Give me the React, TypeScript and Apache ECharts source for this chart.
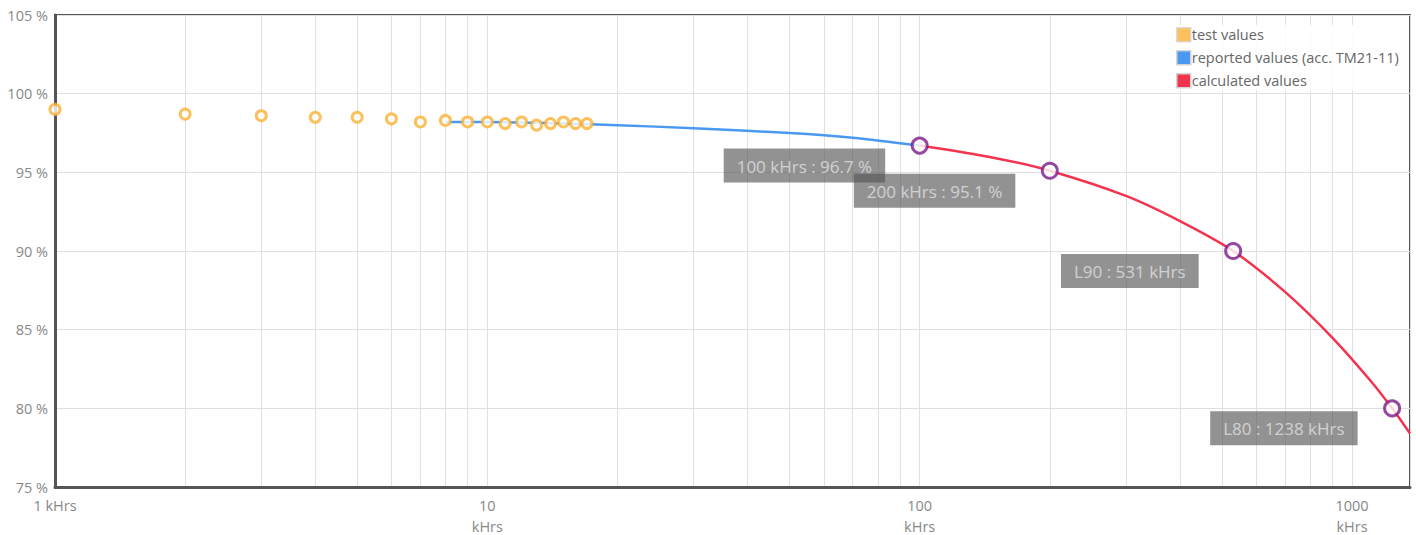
import React, { useEffect, useRef } from "react";
import * as echarts from "echarts";

// ---- data ----
const testHours = [1, 2, 3, 4, 5, 6, 7, 8, 9, 10, 11, 12, 13, 14, 15, 16, 17];
const testValues = [99.0, 98.7, 98.6, 98.5, 98.5, 98.4, 98.2, 98.3, 98.2, 98.2, 98.1, 98.2, 98.0, 98.1, 98.2, 98.1, 98.1];

const reportedHours = [8, 10, 15, 20, 30, 50, 70, 100];
const reportedValues = [98.2, 98.2, 98.1, 98.0, 97.8, 97.5, 97.2, 96.7];

const calcHours = [100, 150, 200, 300, 400, 531, 700, 900, 1100, 1238, 1361.8];
const calcValues = [96.7, 95.9, 95.1, 93.5, 91.9, 90.0, 87.4, 84.5, 81.8, 80.0, 78.4];

const keyHours = [100, 200, 531, 1238];
const keyValues = [96.7, 95.1, 90.0, 80.0];
const keyLabels = ["100 kHrs : 96.7 %", "200 kHrs : 95.1 %", "L90 : 531 kHrs", "L80 : 1238 kHrs"];

const minorGridHours = [2, 3, 4, 5, 6, 7, 8, 9, 20, 30, 40, 50, 60, 70, 80, 90, 200, 300, 400, 500, 600, 700, 800, 900];

const xMin = 1;
const xMax = 1361.8;
const yMin = 75;
const yMax = 105;
const yInterval = 5;

const seriesNames = ["test values", "reported values (acc. TM21-11)", "calculated values"];
const ORANGE = "#fbb034";
const BLUE = "#4a98f2";
const RED = "#f4334e";
const PURPLE = "#7a1a88";
const FONT = "'Open Sans', 'Noto Sans', sans-serif";

export default function App() {
  const ref = useRef<HTMLDivElement>(null);

  useEffect(() => {
    if (!ref.current) return;
    const chart = echarts.init(ref.current, null, { renderer: "svg" });
    chart.setOption({
      animation: false,
      textStyle: { fontFamily: FONT },
      grid: {
        left: 55,
        right: 6,
        top: 15,
        bottom: 48,
        outerBoundsMode: "none",
        containLabel: false,
        show: true,
        borderColor: "#555",
        borderWidth: 2,
        backgroundColor: "transparent",
      },
      legend: {
        orient: "vertical",
        left: 1172,
        top: 25,
        icon: "rect",
        itemWidth: 14,
        itemHeight: 14,
        itemGap: 7.5,
        padding: [2, 4],
        backgroundColor: "rgba(255,255,255,0.85)",
        textStyle: { color: "#666", fontSize: 14.5, fontFamily: FONT, padding: [0, 0, 0, -4] },
        data: [
          { name: seriesNames[0], itemStyle: { color: ORANGE, borderColor: "#d4d4d4", borderWidth: 1.5 } },
          { name: seriesNames[1], itemStyle: { color: BLUE, borderColor: "#d4d4d4", borderWidth: 1.5 } },
          { name: seriesNames[2], itemStyle: { color: RED, borderColor: "#d4d4d4", borderWidth: 1.5 } },
        ],
      },
      xAxis: {
        type: "log",
        logBase: 10,
        min: xMin,
        max: xMax,
        axisLine: { show: true, lineStyle: { color: "#555", width: 3 } },
        axisTick: { show: false },
        splitLine: { show: true, lineStyle: { color: "#e0e0e0", width: 1 } },
        axisLabel: {
          showMaxLabel: false,
          color: "#888",
          fontSize: 14.5,
          fontFamily: FONT,
          margin: 6,
          formatter: (v: number) =>
            Math.round(v) === 1 ? "{a|1 kHrs}" : "{a|" + Math.round(v) + "}\n{b|kHrs}",
          rich: {
            a: { color: "#888", fontSize: 14.5, fontFamily: FONT, lineHeight: 24 },
            b: { color: "#888", fontSize: 14.5, fontFamily: FONT, lineHeight: 18 },
          },
        },
      },
      yAxis: {
        type: "value",
        min: yMin,
        max: yMax,
        interval: yInterval,
        axisLine: { show: true, lineStyle: { color: "#555", width: 3 } },
        axisTick: { show: false },
        splitLine: { show: true, lineStyle: { color: "#e0e0e0", width: 1 } },
        axisLabel: {
          color: "#888",
          fontSize: 14.5,
          fontFamily: FONT,
          margin: 7,
          formatter: "{value} %",
        },
      },
      series: [
        {
          name: seriesNames[0],
          type: "scatter",
          data: testHours.map((h, i) => [h, testValues[i]]),
          symbol: "circle",
          symbolSize: 10,
          itemStyle: { color: "#fff", borderColor: ORANGE, borderWidth: 3 },
          z: 4,
          markLine: {
            silent: true,
            symbol: ["none", "none"],
            label: { show: false },
            lineStyle: { color: "#e0e0e0", width: 1, type: "solid" },
            emphasis: { disabled: true },
            data: minorGridHours.map((h) => ({ xAxis: h })),
            z: 0,
          },
        },
        {
          name: seriesNames[1],
          type: "line",
          data: reportedHours.map((h, i) => [h, reportedValues[i]]),
          smooth: 0.3,
          showSymbol: false,
          symbol: "none",
          lineStyle: { color: BLUE, width: 2.5 },
          itemStyle: { color: BLUE },
          z: 3,
        },
        {
          name: seriesNames[2],
          type: "line",
          data: calcHours.map((h, i) => [h, calcValues[i]]),
          smooth: 0.3,
          showSymbol: false,
          symbol: "none",
          lineStyle: { color: RED, width: 2.5 },
          itemStyle: { color: RED },
          z: 3,
        },
        {
          name: "key points",
          type: "scatter",
          data: keyHours.map((h, i) => ({ value: [h, keyValues[i]], label: { formatter: keyLabels[i] } })),
          symbol: "circle",
          symbolSize: 15,
          itemStyle: { color: "#fff", borderColor: PURPLE, borderWidth: 3 },
          z: 6,
          label: {
            show: true,
            position: [-25.5, 12],
            align: "right",
            verticalAlign: "top",
            color: "#e2e2e2",
            fontSize: 17,
            fontFamily: FONT,
            backgroundColor: "rgba(85,85,85,0.8)",
            padding: [9, 13, 8, 13],
          },
        },
      ],
    });
    return () => chart.dispose();
  }, []);

  return (
    <div
      ref={ref}
      style={{ position: "fixed", left: 0, top: 0, width: 1416, height: 535, background: "#fff" }}
    />
  );
}
